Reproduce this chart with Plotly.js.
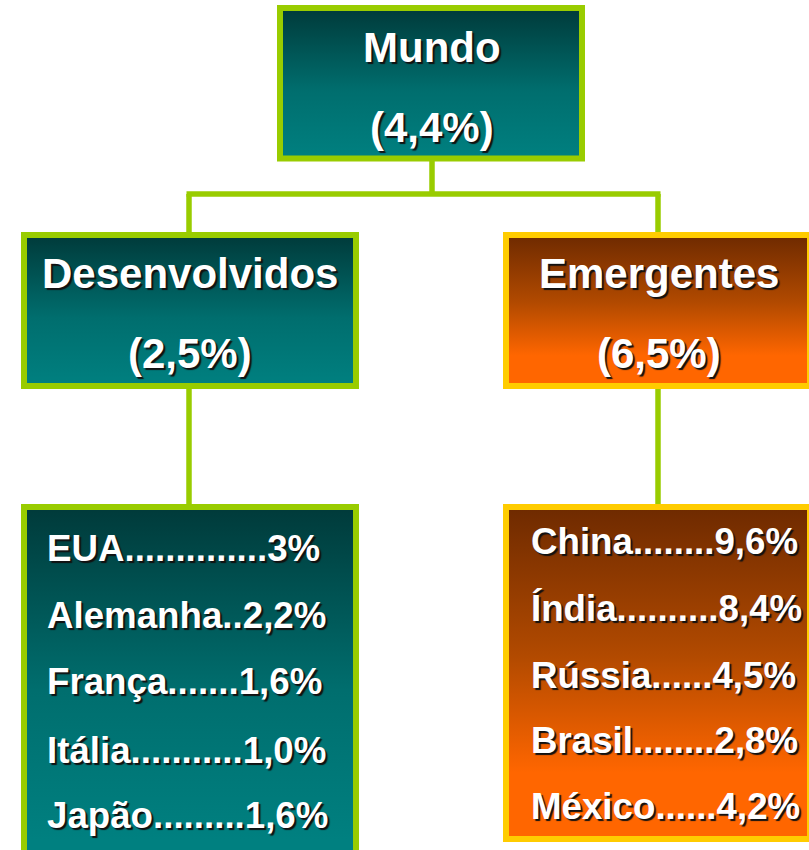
<!DOCTYPE html>
<html>
<head>
<meta charset="utf-8">
<script src="https://cdn.plot.ly/plotly-3.0.1.min.js"></script>
<style>
html,body{margin:0;padding:0;background:#fff;}
#chart{width:809px;height:850px;}
</style>
</head>
<body>
<div id="chart"></div>
<script>
// ---- data ----
const nodeNames = ['Mundo', 'Desenvolvidos', 'Emergentes'];
const nodeGrowth = ['4,4%', '2,5%', '6,5%'];
const devCountries = ['EUA', 'Alemanha', 'França', 'Itália', 'Japão'];
const devGrowth = ['3%', '2,2%', '1,6%', '1,0%', '1,6%'];
const devDots = [14, 2, 7, 11, 9];
const emCountries = ['China', 'Índia', 'Rússia', 'Brasil', 'México'];
const emGrowth = ['9,6%', '8,4%', '4,5%', '2,8%', '4,2%'];
const emDots = [8, 10, 6, 8, 6];

// ---- layout geometry (pixel-like coordinates, y downward) ----
const GREEN = '#99cc00', YELLOW = '#ffcc00';
const TEAL = [[0, '#003a3a'], [0.55, '#006e6e'], [1, '#008080']];
const ORANGE = [[0, '#6e2a00'], [0.45, '#b24a00'], [0.8, '#ff6600'], [1, '#ff6600']];
const boxes = [
  {x0: 280, x1: 582, y0: 8, y1: 158.5, scale: TEAL, border: GREEN},   // Mundo
  {x0: 24, x1: 356, y0: 235, y1: 386, scale: TEAL, border: GREEN},    // Desenvolvidos
  {x0: 506, x1: 810, y0: 235, y1: 386, scale: ORANGE, border: YELLOW},// Emergentes
  {x0: 24, x1: 356, y0: 507, y1: 880, scale: TEAL, border: GREEN, gy1: 840},
  {x0: 506, x1: 810, y0: 507, y1: 839, scale: ORANGE, border: YELLOW}
];

const traces = boxes.map(b => ({
  type: 'scatter', mode: 'lines',
  x: [b.x0, b.x1, b.x1, b.x0, b.x0],
  y: [b.y0, b.y0, b.y1, b.y1, b.y0],
  fill: 'toself',
  line: {width: 0, color: 'rgba(0,0,0,0)'},
  fillgradient: {type: 'vertical', colorscale: b.scale, start: b.y0, stop: b.gy1 || b.y1},
  hoverinfo: 'skip', showlegend: false
}));

const shapes = [];
// connectors
const conn = [
  [432, 158, 432, 194],
  [186.5, 194, 660.5, 194],
  [189, 194, 189, 235],
  [658, 194, 658, 235],
  [189, 386, 189, 507],
  [658, 386, 658, 507]
];
conn.forEach(c => shapes.push({type: 'line', xref: 'x', yref: 'y', x0: c[0], y0: c[1], x1: c[2], y1: c[3],
  line: {color: GREEN, width: 5.5}, layer: 'below'}));
// borders
boxes.forEach(b => shapes.push({type: 'rect', xref: 'x', yref: 'y', x0: b.x0, x1: b.x1, y0: b.y0, y1: b.y1,
  line: {color: b.border, width: 6}, fillcolor: 'rgba(0,0,0,0)', layer: 'above'}));

const SHADOW = '2px 2px 1px #111111';
const fontT = {family: 'Liberation Sans, Arial, sans-serif', size: 42, color: '#ffffff', weight: 700, shadow: SHADOW};
const fontL = {family: 'Liberation Sans, Arial, sans-serif', size: 36.7, color: '#ffffff', weight: 700, shadow: SHADOW};

const annotations = [];
const nodeCx = [432, 190, 659];
const nodeNameY = [47, 273, 273];
const nodeValY = [127, 353, 353];
nodeNames.forEach((n, i) => {
  annotations.push({x: nodeCx[i], y: nodeNameY[i], xref: 'x', yref: 'y', text: n, showarrow: false,
    xanchor: 'center', yanchor: 'middle', font: fontT});
  annotations.push({x: nodeCx[i], y: nodeValY[i], xref: 'x', yref: 'y', text: '(' + nodeGrowth[i] + ')', showarrow: false,
    xanchor: 'center', yanchor: 'middle', font: fontT});
});
const devY = [548, 615, 681, 750, 815];
devCountries.forEach((c, i) => {
  annotations.push({x: 45, y: devY[i], xref: 'x', yref: 'y', text: c + '.'.repeat(devDots[i]) + devGrowth[i],
    showarrow: false, xanchor: 'left', yanchor: 'middle', font: fontL});
});
const emY = [541, 608, 675, 740, 806];
emCountries.forEach((c, i) => {
  annotations.push({x: 529, y: emY[i], xref: 'x', yref: 'y', text: c + '.'.repeat(emDots[i]) + emGrowth[i],
    showarrow: false, xanchor: 'left', yanchor: 'middle', font: fontL});
});

const layout = {
  width: 809, height: 850,
  margin: {l: 0, r: 0, t: 0, b: 0, pad: 0},
  paper_bgcolor: '#ffffff', plot_bgcolor: '#ffffff',
  xaxis: {range: [0, 809], visible: false, fixedrange: true},
  yaxis: {range: [850, 0], visible: false, fixedrange: true},
  showlegend: false, hovermode: false,
  shapes: shapes, annotations: annotations
};
Plotly.newPlot('chart', traces, layout, {displayModeBar: false, staticPlot: true});
</script>
</body>
</html>
